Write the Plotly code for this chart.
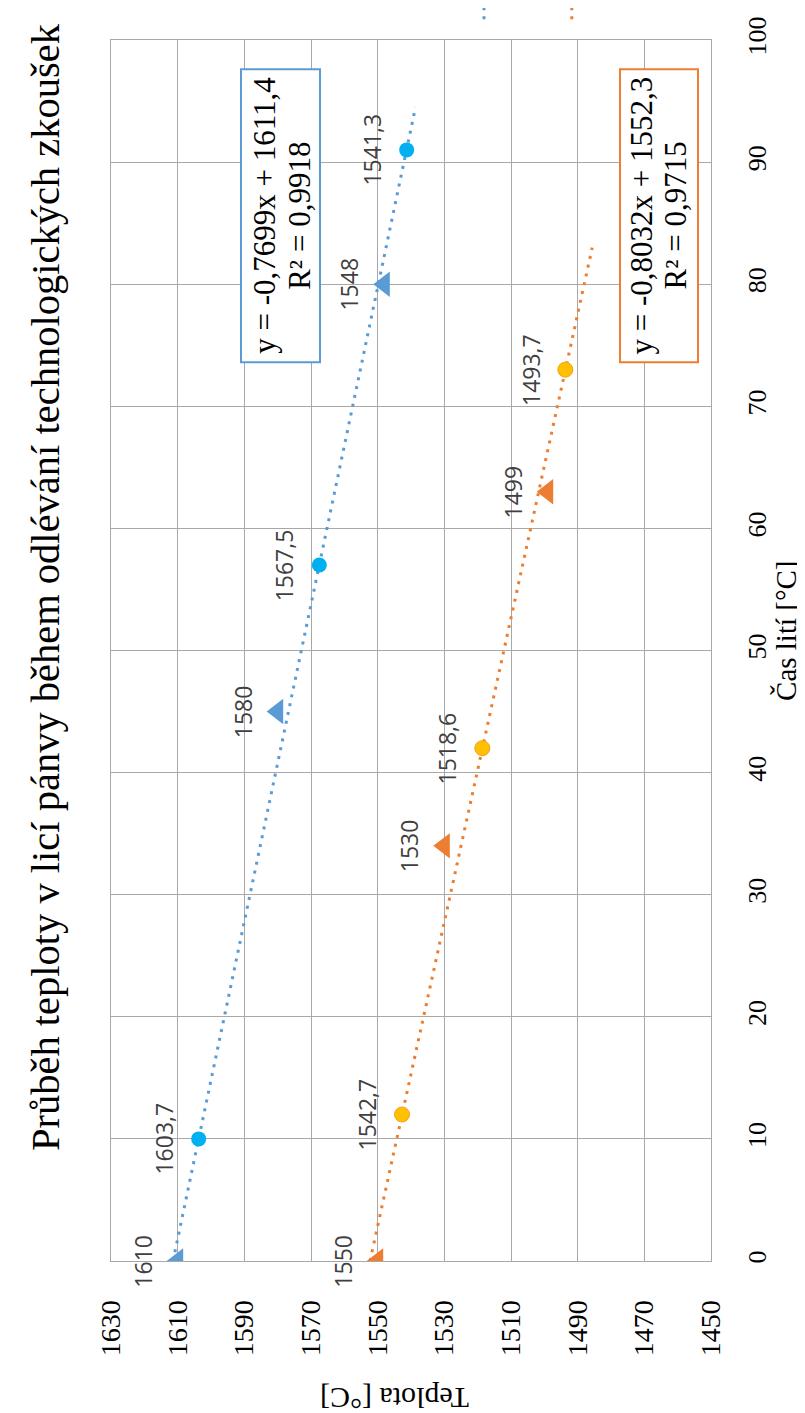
import plotly.graph_objects as go

# ---------------- data ----------------
blue_tri_time = [0, 45, 80]
blue_tri_temp = [1610, 1580, 1548]
blue_dot_time = [10, 57, 91]
blue_dot_temp = [1603.7, 1567.5, 1541.3]

orange_tri_time = [0, 34, 63]
orange_tri_temp = [1550, 1530, 1499]
orange_dot_time = [12, 42, 73]
orange_dot_temp = [1542.7, 1518.6, 1493.7]

# linear trendlines (equations shown in the chart)
blue_slope, blue_intercept, blue_r2 = -0.7699, 1611.4, 0.9918
blue_trend_time = [0, 94.5]
orange_slope, orange_intercept, orange_r2 = -0.8032, 1552.3, 0.9715
orange_trend_time = [0, 83]

temp_ticks = [1450, 1470, 1490, 1510, 1530, 1550, 1570, 1590, 1610, 1630]
time_ticks = [0, 10, 20, 30, 40, 50, 60, 70, 80, 90, 100]

title_text = "Průběh teploty v licí pánvy během odlévání technologických zkoušek"
x_title = "Čas lití [°C]"
y_title = "Teplota [°C]"

# ---------------- style ----------------
BLUE = "#5B9BD5"
BLUE_DOT = "#00B0F0"
ORANGE = "#ED7D31"
GOLD = "#FFC000"
GRID = "#A8A8A8"
SERIF = "Liberation Serif, Times New Roman, serif"
SANS = "Open Sans, sans-serif"


def fmt(v):
    return f"{v:g}".replace(".", ",")


def fmt_num(v, nd):
    return f"{v:.{nd}f}".replace(".", ",")


fig = go.Figure()

for slope, icpt, tt, col in [
    (blue_slope, blue_intercept, blue_trend_time, BLUE),
    (orange_slope, orange_intercept, orange_trend_time, ORANGE),
]:
    fig.add_trace(go.Scatter(
        x=[icpt + slope * t for t in tt], y=tt, mode="lines",
        line=dict(color=col, width=3, dash="3px,6px"),
        hoverinfo="skip",
    ))

fig.add_trace(go.Scatter(x=blue_tri_temp, y=blue_tri_time, mode="markers",
                         marker=dict(symbol="triangle-left", size=22, color=BLUE)))
fig.add_trace(go.Scatter(x=blue_dot_temp, y=blue_dot_time, mode="markers",
                         marker=dict(symbol="circle", size=15, color=BLUE_DOT)))
fig.add_trace(go.Scatter(x=orange_tri_temp, y=orange_tri_time, mode="markers",
                         marker=dict(symbol="triangle-left", size=22, color=ORANGE)))
fig.add_trace(go.Scatter(x=orange_dot_temp, y=orange_dot_time, mode="markers",
                         marker=dict(symbol="circle", size=15, color=GOLD,
                                     line=dict(color="#F0A020", width=1))))

annotations = []
for temps, times in [(blue_tri_temp, blue_tri_time), (blue_dot_temp, blue_dot_time),
                     (orange_tri_temp, orange_tri_time), (orange_dot_temp, orange_dot_time)]:
    for tp, tm in zip(temps, times):
        annotations.append(dict(
            x=tp, y=tm, xref="x", yref="y", text=fmt(tp), showarrow=False,
            textangle=-90, xshift=-35, xanchor="center", yanchor="middle",
            font=dict(family=SANS, size=23, color="#404040"),
        ))

# equation boxes: rectangle + two rotated text lines
shapes = []
for slope, icpt, r2, col, box_x, line_x in [
    (blue_slope, blue_intercept, blue_r2, BLUE, (1591.0, 1567.3), (1583.8, 1573.3)),
    (orange_slope, orange_intercept, orange_r2, ORANGE, (1477.3, 1453.9), (1470.8, 1460.6)),
]:
    shapes.append(dict(type="rect", xref="x", yref="y", x0=box_x[0], x1=box_x[1],
                       y0=73.6, y1=97.6, line=dict(color=col, width=2),
                       fillcolor="white", layer="above"))
    lines = [f"y = {fmt_num(slope, 4)}x + {fmt_num(icpt, 1)}", f"R² = {fmt_num(r2, 4)}"]
    for txt, lx in zip(lines, line_x):
        annotations.append(dict(
            x=lx, y=85.6, xref="x", yref="y", text=txt, showarrow=False,
            textangle=-90, xanchor="center", yanchor="middle",
            font=dict(family=SERIF, size=31, color="black"),
        ))

# titles
annotations.append(dict(x=-0.11, y=0.552, xref="paper", yref="paper", text=title_text,
                        showarrow=False, textangle=-90, xanchor="center", yanchor="middle",
                        font=dict(family=SERIF, size=40.5, color="black")))
annotations.append(dict(x=1.125, y=0.516, xref="paper", yref="paper", text=x_title,
                        showarrow=False, textangle=-90, xanchor="center", yanchor="middle",
                        font=dict(family=SERIF, size=29, color="black")))
annotations.append(dict(x=0.4725, y=-0.1125, xref="paper", yref="paper", text=y_title,
                        showarrow=False, textangle=180, xanchor="center", yanchor="middle",
                        font=dict(family=SERIF, size=30, color="black")))

# legend line samples (cut off at the top edge)
for px, col in [(0.6217, BLUE), (0.768, ORANGE)]:
    shapes.append(dict(type="line", xref="paper", yref="paper", x0=px, x1=px,
                       y0=1.017, y1=1.03, line=dict(color=col, width=3, dash="3px,6px")))

fig.update_layout(
    width=805, height=1413,
    margin=dict(l=103, r=102, t=32, b=160),
    plot_bgcolor="white", paper_bgcolor="white",
    showlegend=False,
    annotations=annotations,
    shapes=shapes,
    xaxis=dict(
        range=[1630, 1450], tickvals=temp_ticks, ticktext=[str(t) for t in temp_ticks],
        tickangle=-90, showgrid=True, gridcolor=GRID, gridwidth=1,
        showline=True, linecolor=GRID, mirror=True, zeroline=False, ticks="",
        tickfont=dict(family=SERIF, size=28, color="black"),
        ticklabelstandoff=27, automargin=False,
    ),
    yaxis=dict(
        range=[0, 100], tickvals=time_ticks, side="right",
        tickangle=-90, showgrid=True, gridcolor=GRID, gridwidth=1,
        showline=True, linecolor=GRID, mirror=True, zeroline=False, ticks="",
        tickfont=dict(family=SERIF, size=26, color="black"),
        ticklabelstandoff=23, automargin=False,
    ),
)

fig.write_html("out.html")
